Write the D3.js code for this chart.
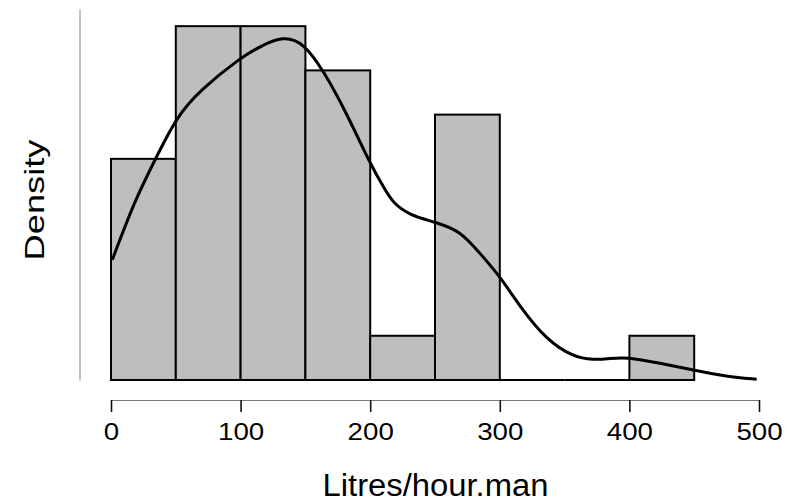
<!DOCTYPE html>
<html>
<head>
<meta charset="utf-8">
<script src="https://cdn.jsdelivr.net/npm/d3@7"></script>
<style>
  html, body { margin: 0; padding: 0; background: #fff; }
  svg { display: block; font-family: "Liberation Sans", Arial, sans-serif; }
</style>
</head>
<body>
<svg id="chart" width="787" height="503"></svg>
<script>
// ---- data ----
const binEdges = [0, 50, 100, 150, 200, 250, 300, 350, 400, 450];
const binCounts = [5, 8, 8, 7, 1, 6, 0, 0, 1];
const nObs = 36;
const xTicks = [0, 100, 200, 300, 400, 500];
const densityX = [1.0, 18.5, 32.6, 50.7, 68.7, 100.1, 115.0, 132.9, 148.4, 163.8, 181.9, 199.8, 211.4, 217.8, 230.7, 248.7, 269.3, 284.7, 300.2, 315.6, 336.2, 356.7, 372.1, 385, 397.9, 423.6, 449.3, 475.1, 498.2];
const densityY = [0.00151, 0.00226, 0.00272, 0.00331, 0.00364, 0.00405, 0.00419, 0.00432, 0.00424, 0.00389, 0.00335, 0.00272, 0.00239, 0.00222, 0.00207, 0.00199, 0.00188, 0.00159, 0.00130, 0.00092, 0.00050, 0.00029, 0.00025, 0.00027, 0.00029, 0.00021, 0.000126, 0.000042, 0.000009];
const xLabel = "Litres/hour.man";
const yLabel = "Density";

// ---- scales ----
const svg = d3.select("#chart");
const x = d3.scaleLinear().domain([0, 500]).range([111, 759]);
const y = d3.scaleLinear().domain([0, 0.00466]).range([380, 9]);
const binWidth = binEdges[1] - binEdges[0];
const bins = binCounts.map((c, i) => ({ x0: binEdges[i], x1: binEdges[i + 1], d: c / (nObs * binWidth), c }));

// ---- bars ----
svg.append("g").selectAll("rect")
  .data(bins.filter(b => b.c > 0))
  .join("rect")
  .attr("x", d => x(d.x0))
  .attr("y", d => y(d.d))
  .attr("width", d => x(d.x1) - x(d.x0))
  .attr("height", d => y(0) - y(d.d))
  .attr("fill", "#bebebe")
  .attr("stroke", "#000")
  .attr("stroke-width", 2);

// zero-height bins drawn as baseline segments
svg.append("g").selectAll("line")
  .data(bins.filter(b => b.c === 0))
  .join("line")
  .attr("x1", d => x(d.x0)).attr("x2", d => x(d.x1))
  .attr("y1", y(0)).attr("y2", y(0))
  .attr("stroke", "#000").attr("stroke-width", 2);

// ---- density curve ----
const pts = densityX.map((v, i) => [v, densityY[i]]);
svg.append("path")
  .datum(pts)
  .attr("fill", "none")
  .attr("stroke", "#000")
  .attr("stroke-width", 3)
  .attr("stroke-linejoin", "round")
  .attr("d", d3.line().x(d => x(d[0])).y(d => y(d[1])).curve(d3.curveBasis));

// ---- x axis ----
const xAxis = d3.axisBottom(x).tickValues(xTicks).tickSize(12).tickSizeOuter(0).tickFormat(d3.format("d"));
const gx = svg.append("g").attr("transform", "translate(0,400)").call(xAxis);
gx.select(".domain").attr("stroke", "#777").attr("stroke-width", 1.2);
gx.selectAll(".tick line").attr("stroke", "#111").attr("stroke-width", 1.6);
gx.selectAll(".tick text")
  .attr("y", 0).attr("dy", null)
  .attr("transform", "translate(0,40)")
  .attr("font-size", 23.5)
  .attr("fill", "#000")
  .attr("font-family", "Liberation Sans, Arial, sans-serif")
  .attr("textLength", d => String(d).length * 15.4)
  .attr("lengthAdjust", "spacingAndGlyphs");

// ---- y axis (line only, no ticks) ----
const yAxis = d3.axisLeft(y).tickValues([]).tickSizeOuter(0);
const gy = svg.append("g").attr("transform", "translate(79.5,0)").call(yAxis);
gy.select(".domain").attr("stroke", "#999").attr("stroke-width", 1.2);

// ---- labels ----
svg.append("text")
  .attr("x", 435.5).attr("y", 496)
  .attr("text-anchor", "middle")
  .attr("font-size", 31)
  .attr("textLength", 226)
  .attr("lengthAdjust", "spacingAndGlyphs")
  .text(xLabel);

svg.append("text")
  .attr("transform", "translate(43.5,200) rotate(-90)")
  .attr("text-anchor", "middle")
  .attr("font-size", 28)
  .attr("textLength", 121)
  .attr("lengthAdjust", "spacingAndGlyphs")
  .text(yLabel);
</script>
</body>
</html>
